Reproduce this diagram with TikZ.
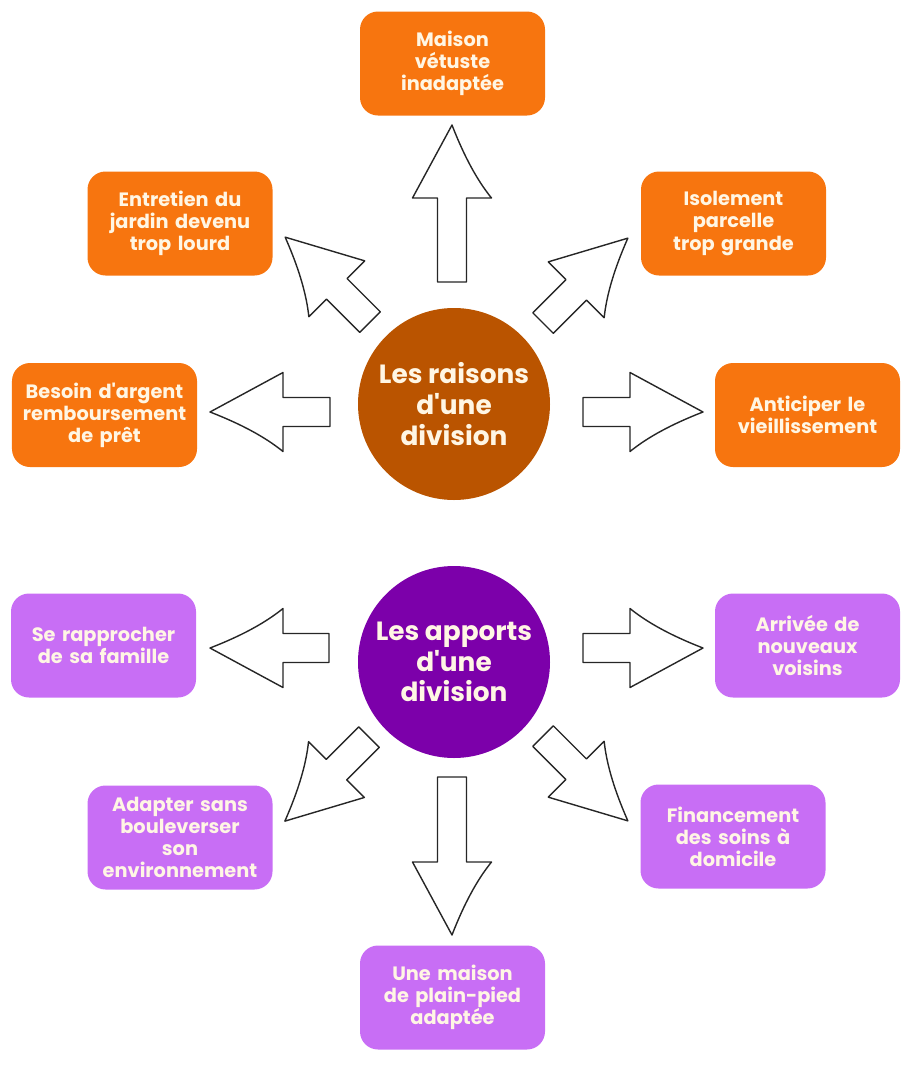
\documentclass[tikz,border=0pt]{standalone}
\usepackage{fontspec}
\setmainfont{Poppins}
\usepackage{tikz}
\usetikzlibrary{calc, positioning}
\definecolor{boxorange}{RGB}{247,117,15}
\definecolor{hubbrown}{RGB}{186,84,0}
\definecolor{boxpurple}{RGB}{200,110,245}
\definecolor{hubpurple}{RGB}{124,0,170}
\definecolor{creamtext}{RGB}{255,246,228}
\tikzset{
    box_orange/.style={rectangle, rounded corners=0.36cm, fill=boxorange, text=creamtext, minimum width=3.7cm, minimum height=2.08cm, text width=3.4cm, align=center, inner sep=0pt, font=\fontsize{11}{12.6}\selectfont\bfseries},
    box_purple/.style={box_orange, fill=boxpurple},
    hub_brown/.style={circle, fill=hubbrown, text=creamtext, minimum size=3.84cm, align=center, inner sep=0pt, font=\fontsize{15}{17.5}\selectfont\bfseries},
    hub_purple/.style={hub_brown, fill=hubpurple},
    fatline/.style={draw=black!85, fill=white, line width=0.8pt, line join=round}
}
% block arrow: tail, tip, curved side, straight side
\newcommand{\fatarrow}[4]{%
    \coordinate (hb) at ($(#2)!1.46cm!(#1)$);
    \coordinate (hm) at ($(#2)!0.93cm!(#1)$);
    \coordinate (hw) at ($(hb)!0.79cm!#3:(#2)$);
    \coordinate (hk) at ($(hm)!0.36cm!#3:(#2)$);
    \draw[fatline] ($(#1)!0.29cm!#3:(#2)$) -- ($(hb)!0.29cm!#3:(#2)$) -- (hw)
        .. controls ($(hw)!0.67!(hk)$) and ($(#2)!0.67!(hk)$) .. (#2)
        -- ($(hb)!0.79cm!#4:(#2)$) -- ($(hb)!0.29cm!#4:(#2)$) -- ($(#1)!0.29cm!#4:(#2)$) -- cycle;
}

\begin{document}
\begin{tikzpicture}
    \useasboundingbox (0,0) rectangle (18.26,-21.30);

    % Hubs
    \node (raisons) [hub_brown] at (9.08,-8.08) {Les raisons\\d\textquotesingle une\\division};
    \node (apports) [hub_purple] at (9.08,-13.24) {Les apports\\d\textquotesingle une\\division};

    % Reasons
    \node (vetuste) [box_orange] at (9.05,-1.27) {Maison\\vétuste\\inadaptée};
    \node (jardin) [box_orange] at (3.60,-4.47) {Entretien du\\jardin devenu\\trop lourd};
    \node (isolement) [box_orange] at (14.67,-4.47) {Isolement\\parcelle\\trop grande};
    \node (argent) [box_orange] at (2.09,-8.30) {Besoin d\textquotesingle argent\\remboursement\\de prêt};
    \node (vieillir) [box_orange] at (16.15,-8.30) {Anticiper le\\vieillissement};

    % Benefits
    \node (famille) [box_purple] at (2.07,-12.91) {Se rapprocher\\de sa famille};
    \node (voisins) [box_purple] at (16.15,-12.91) {Arrivée de\\nouveaux\\voisins};
    \node (adapter) [box_purple] at (3.60,-16.75) {Adapter sans\\bouleverser\\son\\environnement};
    \node (soins) [box_purple] at (14.66,-16.73) {Financement\\des soins à\\domicile};
    \node (plainpied) [box_purple] at (9.05,-19.95) {Une maison\\de plain-pied\\adaptée};

    % Arrows out of the reasons hub
    \coordinate (up_s) at ($(raisons)+(-0.04,2.44)$);
    \coordinate (up_e) at ($(up_s)+(90:3.14)$);
    \coordinate (ul_s) at ($(raisons)+(-1.68,1.64)$);
    \coordinate (ul_e) at ($(ul_s)+(135:2.40)$);
    \coordinate (ur_s) at ($(raisons)+(1.78,1.62)$);
    \coordinate (ur_e) at ($(ur_s)+(45:2.40)$);
    \coordinate (l_s) at ($(raisons)+(-2.48,-0.16)$);
    \coordinate (l_e) at ($(l_s)+(180:2.40)$);
    \coordinate (r_s) at ($(raisons)+(2.58,-0.16)$);
    \coordinate (r_e) at ($(r_s)+(0:2.40)$);
    \fatarrow{up_s}{up_e}{-90}{90}
    \fatarrow{ul_s}{ul_e}{90}{-90}
    \fatarrow{ur_s}{ur_e}{-90}{90}
    \fatarrow{l_s}{l_e}{90}{-90}
    \fatarrow{r_s}{r_e}{-90}{90}

    % Arrows out of the benefits hub
    \coordinate (l2_s) at ($(apports)+(-2.50,0.28)$);
    \coordinate (l2_e) at ($(l2_s)+(180:2.38)$);
    \coordinate (r2_s) at ($(apports)+(2.58,0.28)$);
    \coordinate (r2_e) at ($(r2_s)+(0:2.40)$);
    \coordinate (dl_s) at ($(apports)+(-1.70,-1.50)$);
    \coordinate (dl_e) at ($(dl_s)+(225:2.38)$);
    \coordinate (dn_s) at ($(apports)+(-0.04,-2.30)$);
    \coordinate (dn_e) at ($(dn_s)+(270:3.16)$);
    \coordinate (dr_s) at ($(apports)+(1.78,-1.48)$);
    \coordinate (dr_e) at ($(dr_s)+(-45:2.40)$);
    \fatarrow{l2_s}{l2_e}{-90}{90}
    \fatarrow{r2_s}{r2_e}{90}{-90}
    \fatarrow{dl_s}{dl_e}{-90}{90}
    \fatarrow{dn_s}{dn_e}{90}{-90}
    \fatarrow{dr_s}{dr_e}{90}{-90}
\end{tikzpicture}
\end{document}
